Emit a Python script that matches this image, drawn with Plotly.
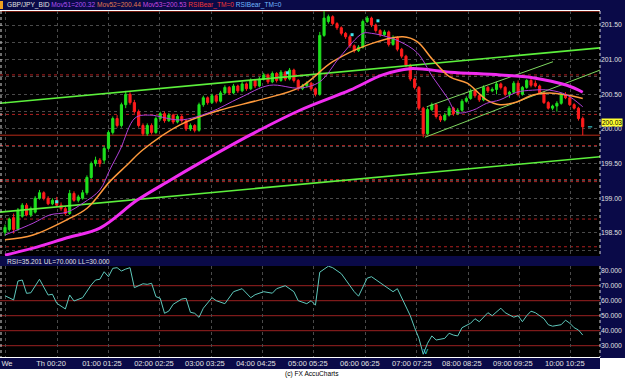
import plotly.graph_objects as go

W, H = 625, 380

# ---------------- data ----------------
opens = [198.51,198.55,198.72,198.55,198.74,198.90,198.76,198.80,199.00,199.08,
         199.00,198.92,198.97,198.90,198.85,198.78,199.07,198.97,199.00,199.08,
         199.30,199.50,199.55,199.55,199.72,199.95,200.15,200.05,200.35,200.50,
         200.38,200.25,200.05,199.93,200.05,199.95,200.15,200.22,200.12,200.20,
         200.10,200.18,200.12,200.00,200.05,199.98,200.35,200.45,200.38,200.48,
         200.40,200.52,200.60,200.52,200.62,200.55,200.65,200.58,200.70,200.62,
         200.72,200.78,200.68,200.80,200.70,200.82,200.72,200.85,200.70,200.58,
         200.62,200.66,200.58,200.50,201.35,201.55,201.62,201.52,201.46,201.38,
         201.33,201.20,201.13,201.18,201.55,201.60,201.50,201.42,201.36,201.40,
         201.22,201.32,201.15,201.05,200.92,200.72,200.60,200.30,199.93,200.28,
         200.35,200.18,200.13,200.20,200.30,200.22,200.27,200.40,200.44,200.55,
         200.48,200.42,200.60,200.55,200.57,200.65,200.60,200.50,200.53,200.66,
         200.50,200.60,200.70,200.66,200.62,200.52,200.38,200.30,200.33,200.37,
         200.50,200.45,200.35,200.30,200.15]
highs = [198.62,198.72,198.78,198.86,198.93,198.93,198.88,199.03,199.12,199.10,
         199.03,199.00,199.02,198.94,198.88,199.12,199.10,199.05,199.12,199.33,
         199.53,199.60,199.58,199.75,199.98,200.18,200.20,200.38,200.55,200.53,
         200.42,200.28,200.08,200.08,200.08,200.18,200.25,200.25,200.23,200.22,
         200.21,200.20,200.14,200.08,200.07,200.38,200.48,200.47,200.51,200.50,
         200.55,200.63,200.62,200.65,200.64,200.68,200.67,200.73,200.72,200.75,
         200.81,200.80,200.83,200.82,200.85,200.84,200.88,200.87,200.72,200.65,
         200.69,200.68,200.60,201.40,201.72,201.65,201.64,201.54,201.48,201.40,
         201.36,201.22,201.21,201.58,201.63,201.62,201.52,201.44,201.43,201.42,
         201.35,201.34,201.17,201.07,200.94,200.74,200.62,200.32,200.31,200.38,
         200.37,200.20,200.23,200.33,200.32,200.30,200.43,200.47,200.58,200.57,
         200.50,200.63,200.62,200.60,200.68,200.67,200.62,200.55,200.69,200.70,
         200.62,200.72,200.73,200.70,200.64,200.54,200.40,200.35,200.40,200.52,
         200.53,200.47,200.37,200.32,200.18]
lows = [198.46,198.52,198.49,198.53,198.72,198.74,198.73,198.78,198.98,198.97,
        198.90,198.90,198.87,198.82,198.75,198.76,198.95,198.94,198.98,199.05,
        199.28,199.46,199.45,199.50,199.70,199.92,200.02,200.02,200.30,200.35,
        200.22,200.02,199.90,199.90,199.92,199.93,200.12,200.09,200.10,200.07,
        200.08,200.09,199.97,199.97,199.95,199.96,200.32,200.35,200.36,200.37,
        200.38,200.50,200.49,200.50,200.52,200.53,200.55,200.56,200.59,200.60,
        200.70,200.65,200.66,200.67,200.68,200.69,200.70,200.67,200.55,200.56,
        200.60,200.55,200.47,200.48,201.33,201.52,201.50,201.43,201.35,201.30,
        201.17,201.10,201.11,201.16,201.53,201.47,201.39,201.33,201.34,201.19,
        201.20,201.12,201.02,200.89,200.69,200.57,200.27,199.88,199.91,200.26,
        200.15,200.10,200.11,200.18,200.19,200.20,200.25,200.38,200.42,200.45,
        200.39,200.40,200.52,200.53,200.50,200.57,200.47,200.45,200.51,200.47,
        200.48,200.58,200.60,200.60,200.50,200.36,200.28,200.27,200.25,200.35,
        200.43,200.33,200.28,200.12,199.91]
closes = [198.58,198.70,198.55,198.83,198.90,198.76,198.85,199.00,199.08,199.00,
          198.92,198.97,198.90,198.85,198.78,199.07,198.97,199.02,199.08,199.30,
          199.50,199.55,199.50,199.72,199.95,200.15,200.05,200.35,200.50,200.38,
          200.25,200.05,199.93,200.05,199.95,200.15,200.22,200.12,200.20,200.10,
          200.18,200.12,200.00,200.05,199.98,200.35,200.45,200.38,200.48,200.40,
          200.52,200.60,200.52,200.62,200.55,200.65,200.58,200.70,200.62,200.72,
          200.78,200.68,200.80,200.70,200.82,200.72,200.85,200.70,200.58,200.62,
          200.66,200.58,200.50,201.35,201.60,201.62,201.52,201.46,201.38,201.33,
          201.20,201.13,201.18,201.55,201.60,201.50,201.42,201.36,201.40,201.22,
          201.32,201.15,201.05,200.92,200.72,200.60,200.30,199.93,200.28,200.35,
          200.18,200.13,200.20,200.30,200.22,200.27,200.40,200.44,200.55,200.48,
          200.42,200.60,200.55,200.57,200.65,200.60,200.50,200.53,200.66,200.50,
          200.60,200.70,200.63,200.62,200.52,200.38,200.30,200.33,200.37,200.50,
          200.45,200.35,200.30,200.15,200.03]

# moving averages (bar position, value)
ma1_x = [0,6.5,10.4,14.4,18.1,22.0,24.3,26.7,30.2,33.6,40.6,47.5,54.5,61.4,68.4,73.0,
         77.7,83.0,85.0,88.6,91.6,95.6,99.2,102.5,104.8,108.5,111.7,114.8,118.7,122.4,
         126.3,130.3,134]
ma1_v = [198.47,198.64,198.76,198.80,198.93,199.12,199.41,199.70,200.16,200.20,200.13,
         200.24,200.45,200.63,200.59,200.68,201.04,201.38,201.38,201.33,201.26,201.10,
         200.75,200.46,200.24,200.27,200.37,200.42,200.53,200.56,200.56,200.49,200.32]
ma2_x = [0,6.5,14.4,19.1,24.3,28.3,32.0,40.6,49.8,59.1,68.4,76.0,84.0,92.3,95.6,99.2,
         103.2,107.2,111.7,114.8,118.7,122.4,126.3,130.3,134]
ma2_v = [198.40,198.47,198.69,198.86,199.24,199.48,199.70,200.06,200.27,200.42,200.60,
         200.97,201.21,201.33,201.26,201.00,200.75,200.66,200.42,200.35,200.39,200.49,
         200.52,200.49,200.44]
ma3_x = [0,6.5,14.4,22.0,30.6,38.3,45.2,56.8,68.4,80.0,87.6,93.9,103.2,114.8,122.4,130.3,134]
ma3_v = [198.18,198.28,198.43,198.57,198.97,199.26,199.51,199.91,200.27,200.56,200.78,
         200.87,200.82,200.78,200.74,200.63,200.53]

# RSI (bar position, value)
rsi_x = [0,2,3,4,5,6,8,10,11,12,14,15,16,18,20,21,22,23,24,25,26,27,28,29,30,32,33,34,
         35,36,37,38,39,41,42,43,44,45,46,48,49,51,53,55,57,58,60,62,63,65,67,68,70,71,
         72,73,75,76,78,79,81,82,84,85,87,88,90,91,92,93,94,95,96,97,98,99,100,102,103,
         104,105,106,108,109,110,112,113,115,116,118,119,120,121,122,123,125,126,127,
         129,130,131,132,133,134]
rsi_v = [63.3,60.5,73.1,73.8,64.9,65.3,74.3,63.8,64.3,58.3,54.5,63.8,59.8,62.0,70.5,73.8,
         74.3,79.3,76.0,81.6,82.0,79.8,81.1,82.0,68.7,71.3,70.9,71.6,62.7,61.6,51.6,53.1,
         57.6,61.1,61.6,52.3,51.6,48.9,55,62,60,58,66,68,62,64,66,65,68,70,66,60,58,60,
         57,79,83,82,78,74,66,63,75,76,72,70,66,68,62,56,50,42,35,24.3,31.6,36.5,33.8,
         34.9,38.3,37.1,36.5,42,45,48,46,52,50,55,52,49,50,46,50,53,52,48,44,43,44,47,45,
         42,40.5,37.1,35.2]
rsi_mark_x = [97.6]
rsi_mark_v = [25.8]

# horizontal levels (red) and trendlines (green)
level_solid = [201.70, 199.91]
level_dot = [200.78, 200.21, 199.76, 199.27, 199.24, 198.70, 198.30]
rsi_levels = [70, 60, 50, 40, 30]
trend_x = [[-1.16, 138.0], [-1.16, 138.0], [97.4, 138.0], [97.8, 127.1]]
trend_y = [[200.37, 201.17], [198.80, 199.60], [199.88, 200.85], [200.32, 200.97]]
fractal_x = [12, 65.5, 80.5, 86.5]
fractal_y = [198.95, 200.81, 201.36, 201.56]

tick_pos = [0.46, 10.67, 22.49, 34.55, 46.37, 58.2, 70.25, 82.31, 94.37, 105.96, 117.78, 129.84]
tick_txt = ["We", "Th 00:20", "01:00 01:25", "02:00 02:25", "03:00 03:25", "04:00 04:25",
            "05:00 05:25", "06:00 06:25", "07:00 07:25", "08:00 08:25", "09:00 09:25",
            "10:00 10:25"]
price_ticks = [198.5, 199.0, 199.5, 200.0, 200.5, 201.0, 201.5]
rsi_ticks = [30, 40, 50, 60, 70, 80]

# ---------------- figure ----------------
def px(x):
    return x / W

def py(y):
    return 1 - y / H

NAVY = "#0a0a48"
FONT = "Liberation Sans"
GRID = "#4a4a4a"
XR = [-1.16, 138.0]

xi = list(range(len(closes)))
fig = go.Figure()
fig.add_trace(go.Candlestick(
    x=xi, open=opens, high=highs, low=lows, close=closes,
    increasing=dict(line=dict(color="#1ee01e", width=1), fillcolor="#1ee01e"),
    decreasing=dict(line=dict(color="#ff1c1c", width=1), fillcolor="#ff1c1c"),
    whiskerwidth=0, xaxis="x", yaxis="y", showlegend=False, hoverinfo="skip"))

for tx, ty, c, w in zip(trend_x, trend_y,
                        ["#5cf03c", "#5cf03c", "#7fd860", "#7fd860"], [1.6, 1.6, 1, 1]):
    fig.add_trace(go.Scatter(x=tx, y=ty, mode="lines", line=dict(color=c, width=w),
                             xaxis="x", yaxis="y", showlegend=False, hoverinfo="skip"))

fig.add_trace(go.Scatter(x=ma3_x, y=ma3_v, mode="lines", line=dict(color="#f02cf0", width=3, shape="spline"),
                         xaxis="x", yaxis="y", showlegend=False, hoverinfo="skip"))
fig.add_trace(go.Scatter(x=ma2_x, y=ma2_v, mode="lines", line=dict(color="#ff9a3c", width=1.5, shape="spline"),
                         xaxis="x", yaxis="y", showlegend=False, hoverinfo="skip"))
fig.add_trace(go.Scatter(x=ma1_x, y=ma1_v, mode="lines", line=dict(color="#b040d8", width=1, shape="spline"),
                         xaxis="x", yaxis="y", showlegend=False, hoverinfo="skip"))
fig.add_trace(go.Scatter(x=fractal_x, y=fractal_y, mode="markers",
                         marker=dict(color="#40e8f0", size=3, symbol="square"),
                         xaxis="x", yaxis="y", showlegend=False, hoverinfo="skip"))
fig.add_trace(go.Scatter(x=[xi[-1] + 1.2, xi[-1] + 2.2], y=[closes[-1], closes[-1]], mode="lines",
                         line=dict(color="#40e8f0", width=1),
                         xaxis="x", yaxis="y", showlegend=False, hoverinfo="skip"))

fig.add_trace(go.Scatter(x=rsi_x, y=rsi_v, mode="lines", line=dict(color="#5ec8bc", width=1),
                         xaxis="x2", yaxis="y2", showlegend=False, hoverinfo="skip"))
fig.add_trace(go.Scatter(x=rsi_mark_x, y=rsi_mark_v, mode="text", text=["V"],
                         textposition="middle center", textfont=dict(color="#40e8f0", size=7, family=FONT),
                         xaxis="x2", yaxis="y2", showlegend=False, hoverinfo="skip"))

shapes = []
# panels
shapes.append(dict(type="rect", xref="paper", yref="paper", x0=0, x1=px(600), y0=py(0), y1=py(10),
                   fillcolor=NAVY, line_width=0, layer="below"))
shapes.append(dict(type="rect", xref="paper", yref="paper", x0=px(600), x1=1, y0=py(0), y1=py(358),
                   fillcolor=NAVY, line_width=0, layer="below"))
shapes.append(dict(type="rect", xref="paper", yref="paper", x0=0, x1=px(600), y0=py(256), y1=py(266),
                   fillcolor=NAVY, line_width=0, layer="below"))
shapes.append(dict(type="rect", xref="paper", yref="paper", x0=0, x1=px(600), y0=py(358), y1=py(369),
                   fillcolor=NAVY, line_width=0, layer="below"))
shapes.append(dict(type="rect", xref="paper", yref="paper", x0=0, x1=px(3), y0=py(1), y1=py(9),
                   fillcolor="#f0a020", line_width=0))
# dotted axis lines
for x0 in [1, 600]:
    for (a, b) in [(11, 256), (266, 357)]:
        shapes.append(dict(type="line", xref="paper", yref="paper", x0=px(x0), x1=px(x0), y0=py(a), y1=py(b),
                           line=dict(color="#d8d8d8", width=1, dash="dot")))
# levels
for lv in level_solid:
    shapes.append(dict(type="line", xref="x", yref="y", x0=XR[0], x1=XR[1], y0=lv, y1=lv,
                       line=dict(color="#b82a18", width=1), layer="below"))
for lv in level_dot:
    shapes.append(dict(type="line", xref="x", yref="y", x0=XR[0], x1=XR[1], y0=lv, y1=lv,
                       line=dict(color="#b02020", width=1, dash="dot"), layer="below"))
for lv in rsi_levels:
    shapes.append(dict(type="line", xref="x2", yref="y2", x0=XR[0], x1=XR[1], y0=lv, y1=lv,
                       line=dict(color="#9a2020", width=1), layer="below"))

annotations = [
    dict(xref="paper", yref="paper", x=px(5), y=py(5), xanchor="left", yanchor="middle", showarrow=False,
         font=dict(family=FONT, size=6.6, color="#e0e0e0"),
         text=("GBP/JPY_BID <span style='color:#b050f0'>Mov51=200.32</span> "
               "<span style='color:#e07850'>Mov52=200.44</span> "
               "<span style='color:#c848e0'>Mov53=200.53</span> "
               "<span style='color:#f03838'>RSIBear_TM=0</span> "
               "<span style='color:#70b8ff'>RSIBear_TM=0</span>")),
    dict(xref="paper", yref="paper", x=px(5), y=py(261), xanchor="left", yanchor="middle", showarrow=False,
         font=dict(family=FONT, size=6.6, color="#e0e0e0"), text="RSI=35.201 UL=70.000 LL=30.000"),
    dict(xref="paper", yref="paper", x=px(312), y=py(374), xanchor="center", yanchor="middle", showarrow=False,
         font=dict(family=FONT, size=6.6, color="#000000"), text="(c) FX AccuCharts"),
    dict(xref="paper", yref="y", x=px(601), y=closes[-1], xanchor="left", yanchor="middle", showarrow=False,
         yshift=4, bgcolor="#ffff30", borderpad=0, font=dict(family=FONT, size=6.5, color="#000000"),
         text=f"{closes[-1]:.2f}"),
]

fig.update_layout(
    width=W, height=H, margin=dict(l=0, r=0, t=0, b=0),
    paper_bgcolor="white", plot_bgcolor="black",
    shapes=shapes, annotations=annotations, hovermode=False,
    xaxis=dict(domain=[0, px(600)], range=XR, anchor="y", showticklabels=False,
               showgrid=False, zeroline=False, rangeslider=dict(visible=False), fixedrange=True,
               minor=dict(tick0=12.06, dtick=11.92, showgrid=True, gridcolor=GRID, griddash="dot")),
    yaxis=dict(domain=[py(256), py(11)], range=[198.167, 201.702], anchor="x", side="right",
               tickvals=price_ticks, ticktext=[f"{v:.2f}" for v in price_ticks],
               tickfont=dict(family=FONT, size=6.8, color="#e0e0e0"), ticks="", ticklen=0,
               showgrid=True, gridcolor=GRID, griddash="dot", zeroline=False,
               minor=dict(dtick=0.25, tick0=198.0, showgrid=True, gridcolor=GRID, griddash="dot")),
    xaxis2=dict(domain=[0, px(600)], range=XR, anchor="y2", matches="x",
                tickvals=tick_pos, ticktext=tick_txt, tickfont=dict(family=FONT, size=7.5, color="#e0e0e0"),
                ticks="", showgrid=False, zeroline=False,
                minor=dict(tick0=12.06, dtick=11.92, showgrid=True, gridcolor=GRID, griddash="dot")),
    yaxis2=dict(domain=[py(357), py(266)], range=[22.47, 83.13], anchor="x2", side="right",
                tickvals=rsi_ticks, ticktext=[f"{v:.3f}" for v in rsi_ticks],
                tickfont=dict(family=FONT, size=6.8, color="#e0e0e0"), ticks="",
                showgrid=False, zeroline=False),
)

fig.write_html("out.html")
